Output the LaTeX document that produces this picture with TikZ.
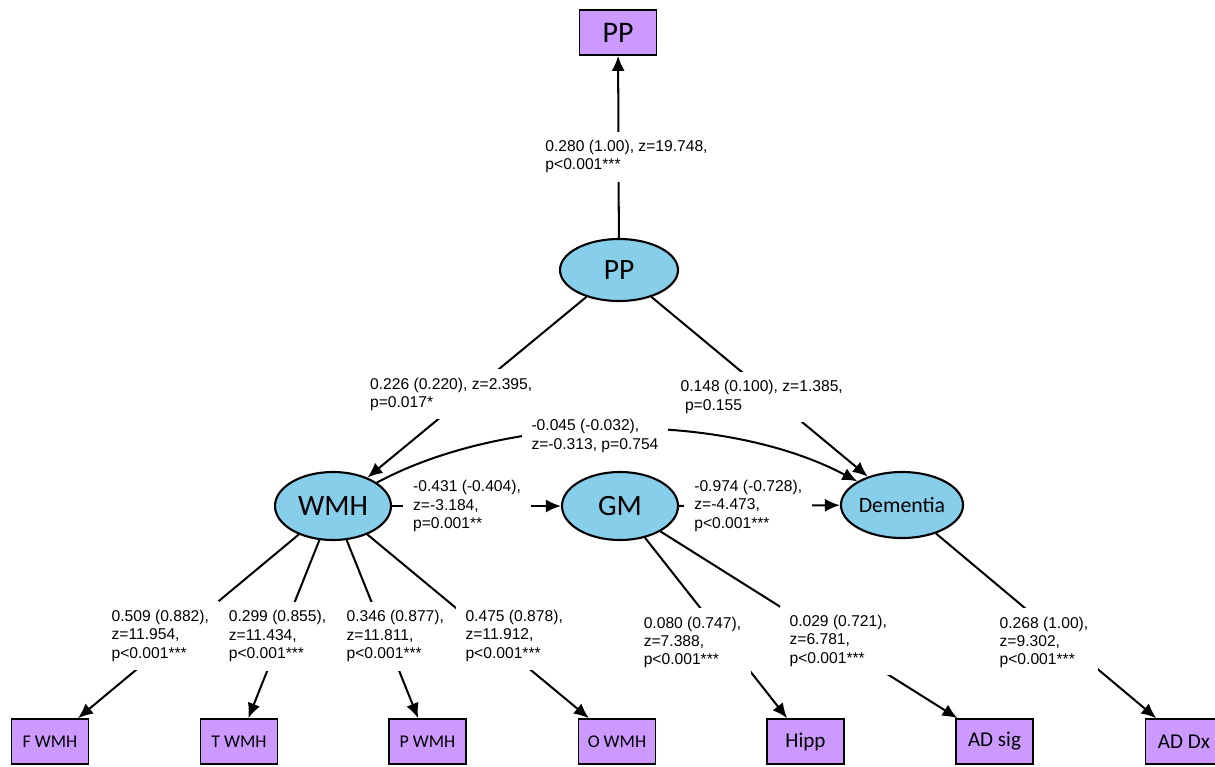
\documentclass[tikz,border=0pt]{standalone}
\usepackage{fontspec}
\setmainfont{Liberation Sans}
\newfontfamily\calfont{Carlito}
\usetikzlibrary{shapes.geometric,arrows.meta}
\definecolor{latblue}{RGB}{135,206,235}
\definecolor{indpurple}{RGB}{204,153,255}

\begin{document}
\begin{tikzpicture}[>={Latex[length=3mm,width=2.6mm]},
	latent/.style={ellipse, draw, line width=1.2pt, fill=latblue, inner sep=0pt, minimum width=2.32cm, minimum height=1.36cm, font=\calfont\fontsize{16.8}{18}\selectfont},
	indic/.style={rectangle, draw, line width=0.9pt, fill=indpurple, inner sep=0pt, minimum width=1.54cm, minimum height=0.9cm, font=\calfont\fontsize{12}{14}\selectfont},
	small/.style={font=\calfont\fontsize{10.2}{12}\selectfont},
	coef/.style={fill=white, align=left, inner xsep=0.2cm, inner ysep=0.17cm, font=\fontsize{8.9}{10.5}\selectfont},
	lnk/.style={->, line width=1.15pt}]
	\useasboundingbox (0,0) rectangle (24.3,-15.32);
	% latent variables
	\node[latent, minimum width=2.36cm, minimum height=1.24cm] (pp) at (12.38,-5.40) {PP};
	\node[latent] (wmh) at (6.66,-10.12) {WMH};
	\node[latent] (gm) at (12.40,-10.12) {GM};
	\node[latent, minimum width=2.36cm, minimum height=1.32cm, font=\calfont\fontsize{12.4}{14}\selectfont] (dem) at (18.04,-10.10) {Dementia};
	% indicators
	\node[indic, font=\calfont\fontsize{17}{19}\selectfont] (ppind) at (12.36,-0.65) {PP};
	\node[indic, small] (fwmh) at (1.00,-14.83) {F WMH};
	\node[indic, small] (twmh) at (4.78,-14.83) {T WMH};
	\node[indic, small] (pwmh) at (8.55,-14.83) {P WMH};
	\node[indic, small] (owmh) at (12.34,-14.83) {O WMH};
	\node[indic] (hipp) at (16.11,-14.83) {Hipp};
	\node[indic] (adsig) at (19.89,-14.83) {AD sig};
	\node[indic] (addx) at (23.68,-14.83) {AD Dx};
	% structural paths
	\draw[lnk] (pp) -- node[coef, pos=0.446, xshift=0.16cm] {0.280 (1.00), z=19.748,\\p<0.001***} (ppind);
	\draw[lnk] (pp) -- node[coef, pos=0.54, xshift=-0.34cm] {0.226 (0.220), z=2.395,\\p=0.017*} (wmh);
	\draw[lnk] (pp) -- node[coef, pos=0.556, xshift=-0.2cm] {0.148 (0.100), z=1.385,\\\ p=0.155} (dem);
	\draw[lnk] (wmh) to[bend left=28, looseness=0.8] node[coef, midway, xshift=-0.44cm, yshift=-0.14cm] {-0.045 (-0.032),\\z=-0.313, p=0.754} (dem);
	\draw[lnk] (wmh) -- node[coef, pos=0.444] {-0.431 (-0.404),\\z=-3.184,\\p=0.001**} (gm);
	\draw[lnk] (gm) -- node[coef, pos=0.43] {-0.974 (-0.728),\\z=-4.473,\\p<0.001***} (dem);
	% measurement paths
	\draw[lnk] (wmh) -- node[coef, pos=0.55, xshift=-0.34cm] {0.509 (0.882),\\z=11.954,\\p<0.001***} (fwmh);
	\draw[lnk] (wmh) -- node[coef, pos=0.54, xshift=-0.07cm] {0.299 (0.855),\\z=11.434,\\p<0.001***} (twmh);
	\draw[lnk] (wmh) -- node[coef, pos=0.54, xshift=0.2cm] {0.346 (0.877),\\z=11.811,\\p<0.001***} (pwmh);
	\draw[lnk] (wmh) -- node[coef, pos=0.55, xshift=0.5cm] {0.475 (0.878),\\z=11.912,\\p<0.001***} (owmh);
	\draw[lnk] (gm) -- node[coef, pos=0.58, xshift=-0.7cm] {0.080 (0.747),\\z=7.388,\\p<0.001***} (hipp);
	\draw[lnk] (gm) -- node[coef, pos=0.585, xshift=0.08cm] {0.029 (0.721),\\z=6.781,\\p<0.001***} (adsig);
	\draw[lnk] (dem) -- node[coef, pos=0.59, xshift=-0.44cm] {0.268 (1.00),\\z=9.302,\\p<0.001***} (addx);
\end{tikzpicture}
\end{document}
